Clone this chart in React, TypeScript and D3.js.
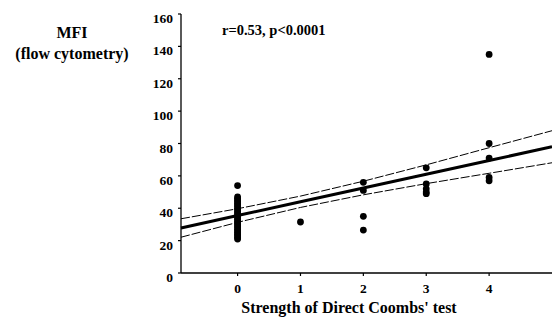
import React from "react";
import * as d3 from "d3";

const W = 552;
const H = 328;

// Data: [DAT strength, MFI]
const grade0 = [21, 22, 23, 24, 25, 26, 27, 28, 29, 30, 31, 32, 33, 34, 35, 36, 37, 38, 39, 40, 41, 42, 43, 44, 45, 46, 47, 54];
const grade1 = [31.5];
const grade2 = [56, 51, 35, 26.5];
const grade3 = [65, 55, 52, 50, 49];
const grade4 = [135, 80, 71, 59, 57];

const fitX = [-0.9, 0, 1, 2, 3, 4, 5];
const fitY = [27.8, 35.5, 44, 52.5, 61, 69.5, 78];
const upperY = [33.5, 39.7, 47.5, 56.7, 66.8, 77.4, 87.9];
const lowerY = [22.1, 31.3, 40.5, 48.3, 55.2, 61.6, 68.1];

const xTicks = [0, 1, 2, 3, 4];
const yTicks = [0, 20, 40, 60, 80, 100, 120, 140, 160];

const FONT = "'Liberation Serif', 'DejaVu Serif', 'Times New Roman', Times, serif";

export default function App() {
  const x = d3.scaleLinear().domain([-0.9, 5]).range([181, 552]);
  const y = d3.scaleLinear().domain([0, 160]).range([273, 14]);

  const points: [number, number][] = [];
  [grade0, grade1, grade2, grade3, grade4].forEach((arr, g) =>
    arr.forEach((v) => points.push([g, v]))
  );

  const line = d3
    .line<number>()
    .x((_, i) => x(fitX[i]))
    .y((d) => y(d));

  return (
    <svg
      width={W}
      height={H}
      style={{ position: "absolute", left: 0, top: 0, background: "#fff" }}
    >
      <style>{`text { font-family: ${FONT}; font-weight: 700; }`}</style>
      {/* y axis */}
      <line x1={181} x2={181} y1={y(160)} y2={y(0)} stroke="#000" strokeWidth={1.3} />
      {yTicks.map((t) => (
        <g key={t}>
          <line x1={178} x2={181} y1={y(t)} y2={y(t)} stroke="#000" strokeWidth={1.2} />
          <text x={173} y={y(t) + 9} textAnchor="end" fontSize={13.5}>
            {t}
          </text>
        </g>
      ))}
      {/* x axis */}
      <line x1={181} x2={552} y1={y(0)} y2={y(0)} stroke="#000" strokeWidth={1.3} />
      {xTicks.map((t) => (
        <g key={t}>
          <line x1={x(t)} x2={x(t)} y1={y(0)} y2={y(0) + 3} stroke="#000" strokeWidth={1.2} />
          <text x={x(t)} y={293} textAnchor="middle" fontSize={13.5}>
            {t}
          </text>
        </g>
      ))}

      {/* confidence bands */}
      <path d={line(upperY) || ""} fill="none" stroke="#000" strokeWidth={1} strokeDasharray="9,2" />
      <path d={line(lowerY) || ""} fill="none" stroke="#000" strokeWidth={1} strokeDasharray="9,2" />
      {/* regression */}
      <path d={line(fitY) || ""} fill="none" stroke="#000" strokeWidth={3} />

      {/* points */}
      {points.map(([g, v], i) => (
        <circle key={i} cx={x(g)} cy={y(v)} r={3.4} fill="#000" />
      ))}

      {/* annotations */}
      <text x={222} y={35} fontSize={14.5}>
        r=0.53, p&lt;0.0001
      </text>
      <text x={72} y={38} textAnchor="middle" fontSize={16}>
        MFI
      </text>
      <text x={72} y={59} textAnchor="middle" fontSize={16}>
        (flow cytometry)
      </text>
      <text x={349} y={313} textAnchor="middle" fontSize={16}>
        Strength of Direct Coombs' test
      </text>
    </svg>
  );
}
